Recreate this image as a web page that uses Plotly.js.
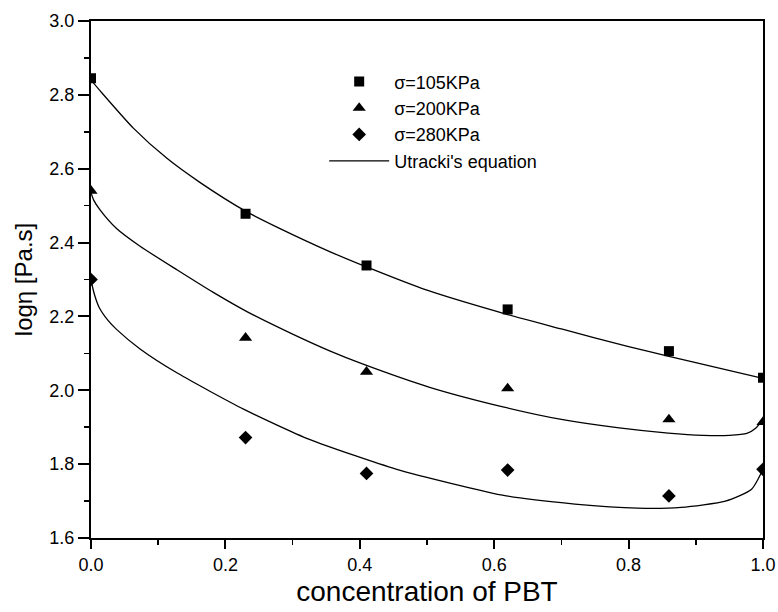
<!DOCTYPE html>
<html>
<head>
<meta charset="utf-8">
<script src="https://cdn.plot.ly/plotly-3.0.1.min.js"></script>
<style>html,body{margin:0;padding:0;background:#fff;}#chart{width:778px;height:612px;}</style>
</head>
<body>
<div id="chart"></div>
<script>
// Measured data
const conc = [0, 0.23, 0.41, 0.62, 0.86, 1.0];
const eta105 = [2.845, 2.478, 2.338, 2.219, 2.106, 2.034];
const eta200 = [2.54, 2.142, 2.050, 2.005, 1.921, 1.914];
const eta280 = [2.300, 1.872, 1.775, 1.784, 1.714, 1.786];

// Utracki's equation curves
const fit105X = [0, 0.014, 0.063, 0.113, 0.162, 0.23, 0.279, 0.356, 0.41, 0.5, 0.62, 0.70, 0.80, 0.86, 0.93, 1.0];
const fit105Y = [2.84, 2.81, 2.71, 2.628, 2.563, 2.485, 2.44, 2.375, 2.334, 2.271, 2.205, 2.166, 2.118, 2.092, 2.062, 2.032];
const fit200X = [0, 0.004, 0.014, 0.038, 0.073, 0.129, 0.182, 0.232, 0.30, 0.356, 0.403, 0.504, 0.613, 0.70, 0.786, 0.859, 0.911, 0.950, 0.976, 0.989, 1.0];
const fit200Y = [2.535, 2.515, 2.487, 2.438, 2.39, 2.325, 2.265, 2.213, 2.152, 2.106, 2.072, 2.008, 1.955, 1.921, 1.898, 1.884, 1.878, 1.878, 1.883, 1.897, 1.921];
const fit280X = [0, 0.005, 0.012, 0.025, 0.038, 0.073, 0.129, 0.227, 0.325, 0.455, 0.618, 0.72, 0.813, 0.878, 0.944, 0.983, 1.0];
const fit280Y = [2.298, 2.26, 2.225, 2.19, 2.165, 2.112, 2.046, 1.949, 1.867, 1.786, 1.714, 1.692, 1.681, 1.683, 1.700, 1.732, 1.786];

const legendNames = ['σ=105KPa', 'σ=200KPa', 'σ=280KPa', "Utracki's equation"];

const FONT = 'Liberation Sans, Arial, sans-serif';
const lineStyle = {color: '#000', width: 1.3, shape: 'spline', smoothing: 0.6};
const traces = [
  {x: conc, y: eta105, mode: 'markers', name: legendNames[0], cliponaxis: true,
   marker: {symbol: 'square', size: 10, color: '#000'}},
  {x: conc, y: eta200, mode: 'markers', name: legendNames[1], cliponaxis: true,
   marker: {symbol: 'triangle-up', size: 11.5, color: '#000'}},
  {x: conc, y: eta280, mode: 'markers', name: legendNames[2], cliponaxis: true,
   marker: {symbol: 'diamond', size: 10.5, color: '#000'}},
  {x: fit105X, y: fit105Y, mode: 'lines', name: legendNames[3], line: lineStyle},
  {x: fit200X, y: fit200Y, mode: 'lines', showlegend: false, line: lineStyle},
  {x: fit280X, y: fit280Y, mode: 'lines', showlegend: false, line: lineStyle}
];

const tickFont = {family: FONT, size: 18, color: '#000'};
const layout = {
  width: 778, height: 612,
  margin: {l: 91, r: 15, t: 21, b: 74},
  paper_bgcolor: '#fff', plot_bgcolor: '#fff',
  font: tickFont,
  showlegend: true,
  legend: {x: 0.347, y: 0.918, xanchor: 'left', yanchor: 'top',
           font: {family: FONT, size: 18, color: '#000'},
           bgcolor: 'rgba(0,0,0,0)', tracegroupgap: 0, itemwidth: 60},
  xaxis: {
    range: [0, 1.0], dtick: 0.2, tick0: 0, tickformat: '.1f',
    showgrid: false, zeroline: false,
    showline: true, linecolor: '#000', linewidth: 2, mirror: true,
    ticks: 'outside', ticklen: 9, tickwidth: 2, tickcolor: '#000',
    minor: {dtick: 0.1, ticks: 'outside', ticklen: 5, tickwidth: 1.5, tickcolor: '#000', showgrid: false},
    tickfont: tickFont,
    title: {text: 'concentration of PBT', font: {family: FONT, size: 28, color: '#000'}, standoff: 8}
  },
  yaxis: {
    range: [1.6, 3.0], dtick: 0.2, tick0: 1.6, tickformat: '.1f',
    showgrid: false, zeroline: false,
    showline: true, linecolor: '#000', linewidth: 2, mirror: true,
    ticks: 'outside', ticklen: 11, tickwidth: 2, tickcolor: '#000',
    minor: {dtick: 0.1, ticks: 'outside', ticklen: 5, tickwidth: 1.5, tickcolor: '#000', showgrid: false},
    tickfont: tickFont,
    title: {text: 'logη [Pa.s]', font: {family: FONT, size: 24, color: '#000'}, standoff: 10}
  }
};

Plotly.newPlot('chart', traces, layout, {staticPlot: true, displayModeBar: false});
</script>
</body>
</html>
